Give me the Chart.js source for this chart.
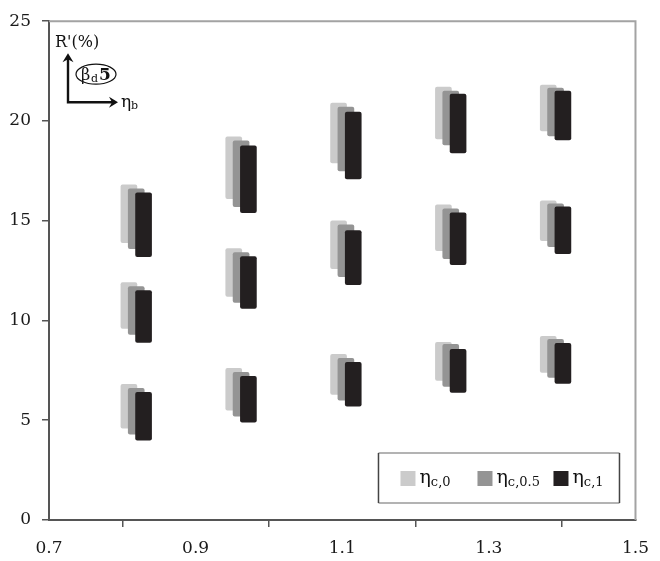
<!DOCTYPE html>
<html lang="en">
<head>
<meta charset="UTF-8">
<title>R'(%) vs eta_b</title>
<script src="https://cdn.jsdelivr.net/npm/chart.js"></script>
<style>
  body { margin: 0; background: #fff; }
  #wrap { width: 660px; height: 561px; }
</style>
</head>
<body>
<div id="wrap"><canvas id="myChart" width="660" height="561"></canvas></div>
<script>
// x position of each bar column (series are shifted slightly to the right)
const xC0 = [0.809, 0.952, 1.095, 1.238, 1.381];
const xC05 = [0.819, 0.962, 1.105, 1.248, 1.391];
const xC1 = [0.829, 0.972, 1.115, 1.258, 1.401];

// R' ranges [low, high] for the upper, middle and lower bar of every column
const c0Top = [[13.9, 16.8], [16.1, 19.2], [17.9, 20.9], [19.1, 21.7], [19.5, 21.8]];
const c0Mid = [[9.6, 11.9], [11.2, 13.6], [12.6, 15.0], [13.5, 15.8], [14.0, 16.0]];
const c0Low = [[4.6, 6.8], [5.5, 7.6], [6.3, 8.3], [7.0, 8.9], [7.4, 9.2]];

const c05Top = [[13.6, 16.6], [15.7, 19.0], [17.5, 20.7], [18.8, 21.5], [19.25, 21.65]];
const c05Mid = [[9.3, 11.7], [10.9, 13.4], [12.2, 14.8], [13.1, 15.6], [13.7, 15.85]];
const c05Low = [[4.3, 6.6], [5.2, 7.4], [6.0, 8.1], [6.7, 8.8], [7.15, 9.05]];

const c1Top = [[13.2, 16.4], [15.4, 18.75], [17.1, 20.45], [18.4, 21.35], [19.05, 21.5]];
const c1Mid = [[8.9, 11.5], [10.6, 13.2], [11.8, 14.5], [12.8, 15.4], [13.35, 15.7]];
const c1Low = [[4.0, 6.4], [4.9, 7.2], [5.7, 7.9], [6.4, 8.55], [6.85, 8.85]];

const subLabels = ['c,0', 'c,0.5', 'c,1'];
const xTicks = [0.7, 0.9, 1.1, 1.3, 1.5];

const serif = "'DejaVu Serif', serif";

function points(xs, ...ranges) {
  const out = [];
  ranges.forEach(r => r.forEach((v, i) => out.push({ x: xs[i], y: v })));
  return out;
}

// top and right frame lines
const frame = {
  id: 'frame',
  afterDatasetsDraw(chart) {
    const { ctx, chartArea: a } = chart;
    ctx.save();
    ctx.strokeStyle = '#a3a3a3';
    ctx.lineWidth = 2;
    ctx.beginPath();
    ctx.moveTo(a.left, a.top);
    ctx.lineTo(a.right, a.top);
    ctx.lineTo(a.right, a.bottom);
    ctx.stroke();
    ctx.restore();
  }
};

// boxed legend in the lower right corner
const boxLegend = {
  id: 'boxLegend',
  afterDraw(chart) {
    const { ctx, chartArea: a } = chart;
    const left = a.right - 257, right = a.right - 16;
    const top = a.bottom - 67, bottom = a.bottom - 17;
    ctx.save();
    ctx.lineWidth = 1.5;
    ctx.strokeStyle = '#9a9a9a';
    ctx.beginPath();
    ctx.moveTo(left, top); ctx.lineTo(right, top);
    ctx.moveTo(left, bottom); ctx.lineTo(right, bottom);
    ctx.stroke();
    ctx.strokeStyle = '#444';
    ctx.beginPath();
    ctx.moveTo(left, top); ctx.lineTo(left, bottom);
    ctx.moveTo(right, top); ctx.lineTo(right, bottom);
    ctx.stroke();

    const cy = top + 25;
    const xs = [left + 22, left + 99, left + 175];
    chart.data.datasets.forEach((ds, i) => {
      ctx.fillStyle = ds.backgroundColor;
      ctx.fillRect(xs[i], cy - 7, 15, 15);
      ctx.fillStyle = '#111';
      ctx.textBaseline = 'alphabetic';
      ctx.font = '19px ' + serif;
      ctx.fillText('η', xs[i] + 19, cy + 5);
      const w = ctx.measureText('η').width;
      ctx.font = '13px ' + serif;
      ctx.fillText(subLabels[i], xs[i] + 19 + w, cy + 8);
    });
    ctx.restore();
  }
};

// axis key drawn in the upper left corner
const inset = {
  id: 'inset',
  afterDraw(chart) {
    const { ctx, chartArea: a } = chart;
    const ox = a.left + 19, oy = a.top + 81;
    ctx.save();
    ctx.fillStyle = '#111';
    ctx.strokeStyle = '#111';
    ctx.lineWidth = 2.4;
    ctx.beginPath();
    ctx.moveTo(ox, oy - 44);
    ctx.lineTo(ox, oy);
    ctx.lineTo(ox + 44, oy);
    ctx.stroke();
    // arrow heads
    ctx.beginPath();
    ctx.moveTo(ox, oy - 49);
    ctx.lineTo(ox - 5.5, oy - 40);
    ctx.lineTo(ox, oy - 43);
    ctx.lineTo(ox + 5.5, oy - 40);
    ctx.closePath();
    ctx.fill();
    ctx.beginPath();
    ctx.moveTo(ox + 50, oy);
    ctx.lineTo(ox + 41, oy - 5.5);
    ctx.lineTo(ox + 44, oy);
    ctx.lineTo(ox + 41, oy + 5.5);
    ctx.closePath();
    ctx.fill();

    ctx.textBaseline = 'alphabetic';
    ctx.font = '16px ' + serif;
    ctx.fillText("R'(%)", ox - 13, oy - 55);

    ctx.lineWidth = 1.2;
    ctx.beginPath();
    ctx.ellipse(ox + 28, oy - 28, 20, 10, 0, 0, Math.PI * 2);
    ctx.stroke();
    ctx.font = '16px ' + serif;
    ctx.fillText('β', ox + 13, oy - 22);
    ctx.font = '11px ' + serif;
    ctx.fillText('d', ox + 23, oy - 20);
    ctx.font = 'bold 17px ' + serif;
    ctx.fillText('5', ox + 31, oy - 22);

    ctx.font = '17px ' + serif;
    ctx.fillText('η', ox + 53, oy + 5);
    ctx.font = '11px ' + serif;
    ctx.fillText('b', ox + 63, oy + 7);
    ctx.restore();
  }
};

const barStyle = { barThickness: 16, borderRadius: 2, borderSkipped: false, grouped: false };

new Chart(document.getElementById('myChart'), {
  type: 'bar',
  data: {
    datasets: [
      { label: 'ηc,0', data: points(xC0, c0Top, c0Mid, c0Low), backgroundColor: '#cbcbcb', order: 3, ...barStyle },
      { label: 'ηc,0.5', data: points(xC05, c05Top, c05Mid, c05Low), backgroundColor: '#949494', order: 2, ...barStyle },
      { label: 'ηc,1', data: points(xC1, c1Top, c1Mid, c1Low), backgroundColor: '#231f20', order: 1, ...barStyle }
    ]
  },
  options: {
    responsive: false,
    animation: false,
    layout: { padding: { top: 19, right: 16, left: 0, bottom: 0 } },
    plugins: { legend: { display: false }, tooltip: { enabled: false } },
    scales: {
      x: {
        type: 'linear',
        min: 0.7,
        max: 1.5,
        offset: false,
        afterBuildTicks: axis => { axis.ticks = xTicks.map(v => ({ value: v })); },
        afterFit: axis => { axis.height = 41; },
        grid: { display: true, drawOnChartArea: false, tickLength: 7, color: '#555', lineWidth: 1.5 },
        border: { color: '#555', width: 2 },
        ticks: { color: '#1a1a1a', padding: 11, maxRotation: 0, font: { family: serif, size: 17 } }
      },
      y: {
        min: 0,
        max: 25,
        afterFit: axis => { axis.width = 49; },
        grid: { display: true, drawOnChartArea: false, tickLength: 7, color: '#555', lineWidth: 1.5 },
        border: { color: '#555', width: 2 },
        ticks: { stepSize: 5, color: '#1a1a1a', padding: 11, font: { family: serif, size: 17 } }
      }
    }
  },
  plugins: [frame, boxLegend, inset]
});
</script>
</body>
</html>
